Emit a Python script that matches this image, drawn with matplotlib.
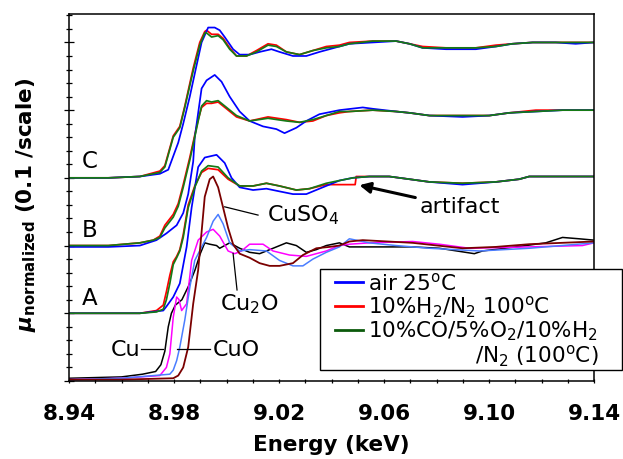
import matplotlib
matplotlib.use("Agg")
import matplotlib.pyplot as plt
from matplotlib.lines import Line2D
from matplotlib.patches import Rectangle
from matplotlib.ticker import MultipleLocator

plt.rcParams["font.family"] = "DejaVu Sans"
plt.rcParams["mathtext.fontset"] = "dejavusans"

# --- sample C (offset 1.5) ---
c_green_e = [8.940, 8.955, 8.9670, 8.9746, 8.9765, 8.9797, 8.9822, 8.9841, 8.9873, 8.9898,
             8.9917, 8.9924, 8.9943, 8.9968, 8.9987, 9.0012, 9.0038, 9.0076, 9.0114, 9.0158,
             9.0190, 9.0228, 9.0278, 9.0329, 9.0380, 9.0430, 9.0468, 9.0557, 9.0646, 9.0697,
             9.0747, 9.0836, 9.0950, 9.1026, 9.1089, 9.1166, 9.1254, 9.1330, 9.14]
c_green_mu = [1.50, 1.50, 1.51, 1.54, 1.58, 1.80, 1.87, 2.02, 2.29, 2.48,
              2.57, 2.57, 2.54, 2.55, 2.52, 2.45, 2.40, 2.40, 2.43, 2.48,
              2.47, 2.43, 2.41, 2.44, 2.46, 2.47, 2.49, 2.51, 2.51, 2.49,
              2.46, 2.46, 2.46, 2.47, 2.49, 2.50, 2.50, 2.50, 2.50]
c_red_mu = [1.50, 1.50, 1.51, 1.55, 1.59, 1.81, 1.88, 2.03, 2.31, 2.50,
            2.58, 2.59, 2.56, 2.56, 2.53, 2.46, 2.40, 2.40, 2.44, 2.49,
            2.48, 2.43, 2.41, 2.44, 2.47, 2.48, 2.50, 2.51, 2.51, 2.49,
            2.47, 2.46, 2.46, 2.48, 2.49, 2.50, 2.50, 2.50, 2.50]
c_blue_e = [8.940, 8.955, 8.9670, 8.9746, 8.9778, 8.9816, 8.9835, 8.9860, 8.9879, 8.9905,
            8.9930, 8.9955, 8.9974, 8.9993, 9.0025, 9.0050, 9.0088, 9.0126, 9.0171, 9.0202,
            9.0253, 9.0304, 9.0354, 9.0430, 9.0468, 9.0557, 9.0646, 9.0697, 9.0747, 9.0836,
            9.0950, 9.1026, 9.1089, 9.1166, 9.1254, 9.1330, 9.14]
c_blue_mu = [1.50, 1.50, 1.51, 1.53, 1.56, 1.76, 1.90, 2.10, 2.27, 2.50,
             2.61, 2.61, 2.59, 2.54, 2.45, 2.41, 2.41, 2.43, 2.45, 2.43,
             2.40, 2.40, 2.43, 2.47, 2.49, 2.50, 2.51, 2.49, 2.46, 2.45,
             2.45, 2.47, 2.49, 2.50, 2.50, 2.49, 2.50]

# --- sample B (offset 1.0) ---
b_green_e = [8.940, 8.955, 8.9670, 8.9721, 8.9746, 8.9765, 8.9797, 8.9816, 8.9835, 8.9860,
             8.9892, 8.9905, 8.9924, 8.9943, 8.9968, 9.0000, 9.0038, 9.0088, 9.0158, 9.0228,
             9.0278, 9.0329, 9.0380, 9.0430, 9.0468, 9.0557, 9.0646, 9.0697, 9.0773, 9.0899,
             9.1001, 9.1077, 9.1178, 9.1280, 9.14]
b_green_mu = [1.00, 1.00, 1.02, 1.04, 1.06, 1.13, 1.21, 1.29, 1.43, 1.63,
              1.92, 2.03, 2.07, 2.06, 2.07, 2.02, 1.96, 1.92, 1.94, 1.92,
              1.91, 1.93, 1.96, 1.99, 1.99, 2.00, 1.99, 1.98, 1.96, 1.96,
              1.96, 1.98, 1.99, 2.00, 2.00]
b_red_mu = [1.00, 1.00, 1.02, 1.04, 1.07, 1.15, 1.23, 1.31, 1.45, 1.65,
            1.93, 2.02, 2.05, 2.05, 2.06, 2.01, 1.95, 1.92, 1.95, 1.93,
            1.91, 1.92, 1.96, 1.98, 1.99, 2.00, 1.99, 1.98, 1.96, 1.96,
            1.96, 1.98, 2.00, 2.00, 2.00]
b_blue_e = [8.940, 8.955, 8.9670, 8.9733, 8.9771, 8.9810, 8.9835, 8.9854, 8.9873, 8.9879,
            8.9905, 8.9924, 8.9955, 8.9981, 9.0012, 9.0050, 9.0088, 9.0139, 9.0190, 9.0221,
            9.0266, 9.0304, 9.0354, 9.0430, 9.0519, 9.0557, 9.0646, 9.0697, 9.0773, 9.0899,
            9.1001, 9.1077, 9.1178, 9.1280, 9.14]
b_blue_mu = [0.99, 0.99, 1.00, 1.04, 1.09, 1.15, 1.24, 1.38, 1.62, 1.80,
             2.16, 2.22, 2.26, 2.21, 2.10, 1.99, 1.92, 1.88, 1.86, 1.83,
             1.87, 1.92, 1.97, 2.00, 2.02, 2.01, 1.99, 1.98, 1.96, 1.95,
             1.96, 1.98, 1.99, 2.00, 2.00]

# --- sample A (offset 0.5) ---
a_green_e = [8.940, 8.955, 8.9670, 8.9733, 8.9759, 8.9771, 8.9784, 8.9797, 8.9810, 8.9822,
             8.9835, 8.9854, 8.9879, 8.9905, 8.9930, 8.9968, 9.0006, 9.0050, 9.0101, 9.0152,
             9.0202, 9.0266, 9.0316, 9.0380, 9.0430, 9.0481, 9.0544, 9.0620, 9.0697, 9.0773,
             9.0899, 9.1026, 9.1115, 9.1153, 9.14]
a_green_mu = [0.50, 0.50, 0.50, 0.51, 0.53, 0.60, 0.72, 0.86, 0.91, 0.96,
              1.06, 1.28, 1.43, 1.55, 1.59, 1.58, 1.50, 1.44, 1.44, 1.46,
              1.44, 1.41, 1.42, 1.46, 1.48, 1.50, 1.51, 1.51, 1.49, 1.47,
              1.46, 1.47, 1.49, 1.51, 1.51]
a_red_e = [8.940, 8.955, 8.9670, 8.9733, 8.9759, 8.9771, 8.9784, 8.9797, 8.9810, 8.9822,
           8.9835, 8.9854, 8.9879, 8.9905, 8.9930, 8.9968, 9.0006, 9.0050, 9.0101, 9.0152,
           9.0202, 9.0266, 9.0316, 9.0380, 9.0430, 9.0490, 9.0494, 9.0544, 9.0620, 9.0697,
           9.0773, 9.0899, 9.1026, 9.1115, 9.1153, 9.14]
a_red_mu = [0.50, 0.50, 0.50, 0.52, 0.56, 0.66, 0.78, 0.88, 0.92, 0.97,
            1.08, 1.30, 1.44, 1.54, 1.57, 1.56, 1.49, 1.44, 1.44, 1.46,
            1.44, 1.41, 1.42, 1.45, 1.45, 1.45, 1.51, 1.51, 1.51, 1.49,
            1.47, 1.46, 1.47, 1.49, 1.51, 1.51]
a_blue_e = [8.940, 8.955, 8.9670, 8.9759, 8.9771, 8.9797, 8.9822, 8.9848, 8.9867, 8.9892,
            8.9917, 8.9962, 8.9993, 9.0019, 9.0050, 9.0101, 9.0152, 9.0202, 9.0253, 9.0304,
            9.0354, 9.0430, 9.0481, 9.0544, 9.0620, 9.0697, 9.0773, 9.0899, 9.1026, 9.1115,
            9.1153, 9.14]
a_blue_mu = [0.50, 0.50, 0.50, 0.52, 0.55, 0.62, 0.72, 0.99, 1.28, 1.58,
             1.65, 1.67, 1.61, 1.50, 1.43, 1.41, 1.42, 1.40, 1.38, 1.38,
             1.42, 1.48, 1.50, 1.51, 1.51, 1.49, 1.47, 1.45, 1.47, 1.49,
             1.51, 1.51]

# --- reference compounds (offset 0) ---
cu_e = [8.940, 8.960, 8.968, 8.973, 8.975, 8.9765, 8.9778, 8.979, 8.9805, 8.983,
        8.9855, 8.988, 8.990, 8.9917, 8.9936, 8.9962, 8.9974, 8.9993, 9.0012, 9.0031,
        9.0050, 9.0088, 9.0126, 9.0152, 9.0190, 9.0228, 9.0266, 9.0304, 9.0342, 9.0380,
        9.0430, 9.0468, 9.0557, 9.0709, 9.0811, 9.0944, 9.0975, 9.1102, 9.1216, 9.1280,
        9.1343, 9.14]
cu_mu = [0.02, 0.03, 0.05, 0.07, 0.12, 0.22, 0.40, 0.50, 0.56, 0.60,
         0.70, 0.82, 0.94, 1.02, 1.01, 1.00, 0.98, 1.00, 1.02, 1.00,
         0.98, 0.95, 0.94, 0.96, 0.99, 1.02, 1.00, 0.95, 0.97, 1.00,
         1.02, 0.99, 0.99, 0.99, 0.98, 0.94, 0.96, 0.99, 1.02, 1.06,
         1.05, 1.04]
cu2o_e = [8.940, 8.960, 8.9746, 8.9771, 8.9784, 8.9797, 8.9810, 8.9819, 8.9829, 8.9848,
          8.9867, 8.9892, 8.9924, 8.9949, 8.9974, 9.0006, 9.0031, 9.0057, 9.0088, 9.0139,
          9.0177, 9.0240, 9.0304, 9.0380, 9.0430, 9.0468, 9.0544, 9.0709, 9.0811, 9.0925,
          9.1153, 9.1356, 9.14]
cu2o_mu = [0.01, 0.02, 0.04, 0.10, 0.20, 0.47, 0.62, 0.60, 0.52, 0.57,
           0.89, 1.04, 1.10, 1.12, 1.07, 0.96, 0.94, 0.96, 1.01, 1.01,
           0.96, 0.93, 0.92, 0.96, 1.00, 1.01, 1.02, 1.03, 1.01, 0.98,
           0.99, 1.00, 1.02]
cuo_e = [8.940, 8.960, 8.9784, 8.9797, 8.9810, 8.9822, 8.9841, 8.9860, 8.9879, 8.9924,
         8.9949, 8.9968, 8.9987, 9.0012, 9.0050, 9.0088, 9.0152, 9.0202, 9.0253, 9.0291,
         9.0329, 9.0380, 9.0430, 9.0468, 9.0544, 9.0646, 9.0773, 9.0963, 9.1153, 9.14]
cuo_mu = [0.01, 0.02, 0.05, 0.08, 0.15, 0.25, 0.45, 0.69, 0.89, 1.06,
          1.18, 1.23, 1.16, 1.02, 0.96, 0.97, 0.96, 0.89, 0.85, 0.85,
          0.90, 0.95, 0.99, 1.05, 1.02, 1.00, 0.98, 0.96, 0.98, 1.02]
cuso4_e = [8.940, 8.960, 8.9797, 8.9816, 8.9835, 8.9854, 8.9873, 8.9892, 8.9917, 8.9936,
           8.9949, 8.9968, 8.9987, 9.0006, 9.0025, 9.0050, 9.0088, 9.0126, 9.0164, 9.0202,
           9.0253, 9.0291, 9.0342, 9.0392, 9.0430, 9.0468, 9.0519, 9.0709, 9.0899, 9.1026,
           9.1153, 9.14]
cuso4_mu = [0.01, 0.01, 0.02, 0.04, 0.10, 0.25, 0.57, 0.82, 1.36, 1.49,
            1.51, 1.43, 1.28, 1.13, 1.01, 0.94, 0.91, 0.87, 0.85, 0.85,
            0.87, 0.93, 0.98, 0.99, 1.00, 1.03, 1.04, 1.02, 0.98, 0.99,
            1.01, 1.03]

x_ticks = [8.94, 8.98, 9.02, 9.06, 9.10, 9.14]
legend_labels = [r"air 25$^{\rm o}$C",
                 r"10%H$_2$/N$_2$ 100$^{\rm o}$C",
                 r"10%CO/5%O$_2$/10%H$_2$",
                 r"/N$_2$ (100$^{\rm o}$C)"]

BLUE = "#0000ff"
RED = "#ff0000"
GREEN = "#157a15"

W, H = 623, 459
fig = plt.figure(figsize=(W / 100, H / 100), dpi=100)
ax = fig.add_axes([0.1108, 0.170, 0.8427, 0.7995])

lw = 1.25
ax.plot(cu_e, cu_mu, color="black", lw=1.1)
ax.plot(cu2o_e, cu2o_mu, color="#ff00ff", lw=1.1)
ax.plot(cuo_e, cuo_mu, color="#4a7dff", lw=1.1)
ax.plot(cuso4_e, cuso4_mu, color="#7a0000", lw=1.3)

ax.plot(a_red_e, a_red_mu, color=RED, lw=lw)
ax.plot(a_blue_e, a_blue_mu, color=BLUE, lw=lw)
ax.plot(a_green_e, a_green_mu, color=GREEN, lw=lw)
ax.plot(b_green_e, b_red_mu, color=RED, lw=lw)
ax.plot(b_blue_e, b_blue_mu, color=BLUE, lw=lw)
ax.plot(b_green_e, b_green_mu, color=GREEN, lw=lw)
ax.plot(c_green_e, c_red_mu, color=RED, lw=lw)
ax.plot(c_blue_e, c_blue_mu, color=BLUE, lw=lw)
ax.plot(c_green_e, c_green_mu, color=GREEN, lw=lw)

ax.set_xlim(8.94, 9.14)
ax.set_ylim(0, 2.71)
ax.set_xticks(x_ticks)
ax.set_xticklabels([f"{t:.2f}" for t in x_ticks], fontsize=15.5, fontweight="bold")
ax.xaxis.set_minor_locator(MultipleLocator(0.01))
ax.yaxis.set_major_locator(MultipleLocator(0.5))
ax.yaxis.set_minor_locator(MultipleLocator(0.1))
ax.set_yticklabels([])
ax.tick_params(axis="x", which="both", direction="inout", length=3.5, width=0.9, pad=15)
ax.tick_params(axis="y", which="major", direction="inout", length=7, width=0.9)
ax.tick_params(axis="y", which="minor", direction="inout", length=4.3, width=0.9)
for sp in ax.spines.values():
    sp.set_linewidth(1.1)

ax.set_xlabel("Energy (keV)", fontsize=15.5, fontweight="bold", labelpad=8)
ax.set_ylabel(r"$\mathbfit{\mu}_{\mathbf{normalized}}$ (0.1 /scale)",
              fontsize=15.5, fontweight="bold")
ax.yaxis.set_label_coords(-0.06, 0.48)

# sample labels
ax.text(8.948, 1.62, "C", fontsize=16.5, ha="center", va="center")
ax.text(8.948, 1.11, "B", fontsize=16.5, ha="center", va="center")
ax.text(8.948, 0.61, "A", fontsize=16.5, ha="center", va="center")

# reference labels with leader lines
ax.plot([8.9993, 9.012], [1.286, 1.225], color="black", lw=0.9)
ax.text(9.0155, 1.225, "CuSO$_4$", fontsize=16, ha="left", va="center")
ax.plot([9.0025, 9.004], [0.942, 0.672], color="black", lw=0.9)
ax.text(9.0088, 0.57, "Cu$_2$O", fontsize=16, ha="center", va="center")
ax.plot([8.9676, 8.9759], [0.238, 0.238], color="black", lw=0.9)
ax.text(8.967, 0.23, "Cu", fontsize=16, ha="right", va="center")
ax.plot([8.981, 8.9936], [0.238, 0.238], color="black", lw=0.9)
ax.text(8.9948, 0.23, "CuO", fontsize=16, ha="left", va="center")

ax.annotate("artifact", xy=(9.0506, 1.446), xytext=(9.0735, 1.282),
            fontsize=16, ha="left", va="center",
            arrowprops=dict(arrowstyle="-|>", lw=2.2, color="black",
                            mutation_scale=16, shrinkA=1, shrinkB=0))

# legend frame reaches past the right spine, so it is drawn separately
fig.add_artist(Rectangle((320 / W, 1 - 370 / H), 302 / W, 101 / H,
                         transform=fig.transFigure, facecolor="white",
                         edgecolor="black", lw=1.0, zorder=4))

handles = [Line2D([], [], color=BLUE, lw=2),
           Line2D([], [], color=RED, lw=2),
           Line2D([], [], color="#0b5a0b", lw=2),
           Line2D([], [], color="none")]
leg = fig.legend(handles, legend_labels, loc="upper left",
                 bbox_to_anchor=(335 / W, 1 - 272 / H), bbox_transform=fig.transFigure,
                 fontsize=15.5, frameon=False, borderaxespad=0, borderpad=0,
                 labelspacing=0.0, handlelength=1.3, handletextpad=0.25)
leg.set_zorder(5)

# right-align the second line of the third label under the first line
fig.canvas.draw()
t3, t4 = leg.get_texts()[2], leg.get_texts()[3]
shift = t3.get_window_extent().x1 - t4.get_window_extent().x1
t4.set_x(shift)

fig.savefig("out.png", dpi=100)
